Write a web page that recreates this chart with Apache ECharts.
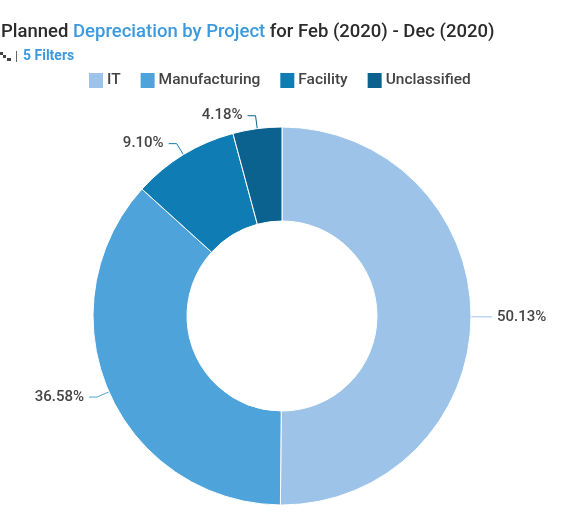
<!DOCTYPE html>
<html><head><meta charset="utf-8">
<style>html,body{margin:0;padding:0;background:#fff}#c{width:564px;height:516px}</style>
<script src="https://cdn.jsdelivr.net/npm/echarts@6/dist/echarts.min.js"></script>
</head><body><div id="c"></div>
<script>
const categories = ["IT", "Manufacturing", "Facility", "Unclassified"];
const values = [50.13, 36.58, 9.10, 4.18];
const colors = ["#9DC3E8", "#4FA3DB", "#0F7DB3", "#0B628F"];
const FONT = 'Roboto,"Noto Sans",sans-serif';
const chart = echarts.init(document.getElementById('c'));
chart.setOption({
  animation: false,
  color: colors,
  title: {
    left: 1, top: 23, padding: 0,
    text: '{k|Planned }{b|Depreciation by Project}{k| for Feb (2020) - Dec (2020)}',
    textStyle: { rich: {
      k: { fontFamily: FONT, fontSize: 18.5, fontWeight: 500, color: '#2b2b2b' },
      b: { fontFamily: FONT, fontSize: 18.5, fontWeight: 500, color: '#3b9ade' }
    }}
  },
  legend: {
    data: categories, left: 87, top: 71, padding: 0,
    itemWidth: 16, itemHeight: 17, itemGap: 18, icon: 'rect',
    textStyle: { fontFamily: FONT, fontSize: 15.5, fontWeight: 500, color: '#444', padding: [0,0,0,-2] }
  },
  series: [{
    type: 'pie',
    center: [282, 316], radius: [95, 189],
    startAngle: 90, clockwise: true,
    data: categories.map((n, i) => ({ name: n, value: values[i] })),
    itemStyle: { borderColor: '#fff', borderWidth: 1 },
    label: {
      position: 'outside',
      formatter: p => values[p.dataIndex].toFixed(2) + '%',
      fontFamily: FONT, fontSize: 15, fontWeight: 500, color: '#444'
    },
    labelLine: { show: true, length: 13, length2: 8, smooth: false, lineStyle: { width: 1 } }
  }],
  graphic: [
    { type: 'rect', shape: { x: 0, y: 52, width: 3, height: 3 }, style: { fill: '#444' } },
    { type: 'rect', shape: { x: 3, y: 55, width: 3, height: 3 }, style: { fill: '#444' } },
    { type: 'rect', shape: { x: 7, y: 58, width: 4, height: 3 }, style: { fill: '#444' } },
    { type: 'rect', shape: { x: 16, y: 51, width: 1, height: 11 }, style: { fill: '#666' } },
    { type: 'text', x: 23, y: 49, style: { text: '5 Filters', fontFamily: FONT, fontSize: 14, fontWeight: 700, fill: '#3b9ade' } }
  ]
});
</script></body></html>
